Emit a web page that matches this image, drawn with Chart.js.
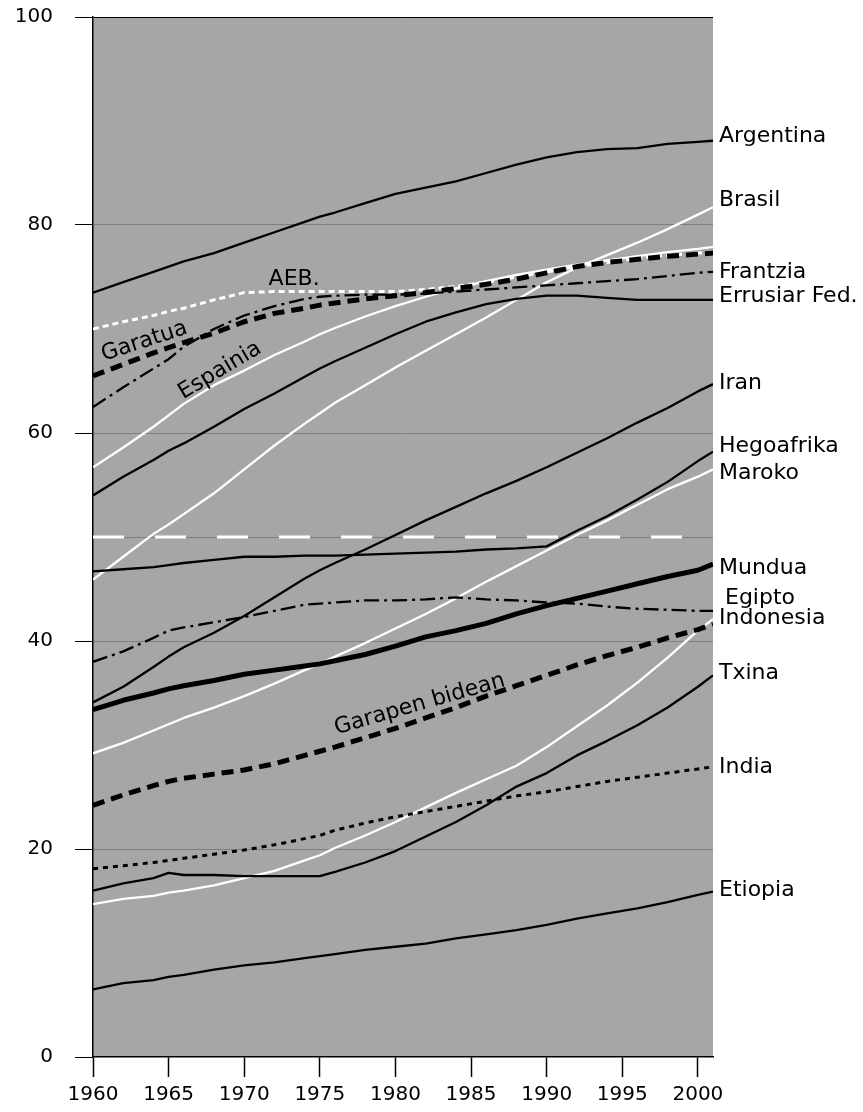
<!DOCTYPE html>
<html>
<head>
<meta charset="utf-8">
<script src="https://cdn.jsdelivr.net/npm/chart.js@4/dist/chart.umd.min.js"></script>
<style>
  html, body { margin: 0; padding: 0; background: #fff; }
  canvas { display: block; }
</style>
</head>
<body>
<canvas id="urbanChart" width="863" height="1112"></canvas>
<script>
// urbanization share (%)
const years = [1960, 1962, 1964, 1965, 1966, 1968, 1970, 1972, 1974, 1975, 1976, 1978,
  1980, 1982, 1984, 1986, 1988, 1990, 1992, 1994, 1996, 1998, 2000, 2001];

const argentina = [73.5, 74.5, 75.5, 76.0, 76.5, 77.3, 78.3, 79.3, 80.3, 80.8, 81.2, 82.1,
  83.0, 83.6, 84.2, 85.0, 85.8, 86.5, 87.0, 87.3, 87.4, 87.8, 88.0, 88.1];
const brasil = [45.9, 48.1, 50.3, 51.2, 52.2, 54.2, 56.5, 58.8, 60.9, 61.9, 62.9, 64.6,
  66.3, 67.9, 69.5, 71.1, 72.8, 74.5, 75.9, 77.1, 78.3, 79.6, 81.0, 81.7];
const aeb = [70.0, 70.7, 71.3, 71.7, 72.0, 72.8, 73.5, 73.6, 73.6, 73.6, 73.6, 73.6,
  73.6, 73.8, 74.1, 74.5, 75.0, 75.5, 76.0, 76.4, 76.8, 77.1, 77.3, 77.4];
const garatua = [65.5, 66.6, 67.7, 68.2, 68.7, 69.6, 70.7, 71.5, 72.0, 72.3, 72.5, 72.9,
  73.2, 73.5, 73.9, 74.3, 74.8, 75.4, 76.0, 76.4, 76.7, 77.0, 77.2, 77.3];
const frantzia = [62.5, 64.4, 66.2, 67.1, 68.3, 70.0, 71.3, 72.2, 72.9, 73.1, 73.2, 73.3,
  73.3, 73.4, 73.6, 73.8, 74.0, 74.2, 74.4, 74.6, 74.8, 75.1, 75.4, 75.5];
const espainia = [56.7, 58.6, 60.6, 61.7, 62.8, 64.6, 66.0, 67.5, 68.8, 69.5, 70.1, 71.2,
  72.2, 73.1, 73.9, 74.6, 75.2, 75.7, 76.2, 76.6, 77.0, 77.4, 77.7, 77.9];
const errusia = [54.0, 55.8, 57.4, 58.3, 59.0, 60.6, 62.3, 63.8, 65.4, 66.2, 66.9, 68.2,
  69.5, 70.7, 71.6, 72.4, 72.9, 73.2, 73.2, 73.0, 72.8, 72.8, 72.8, 72.8];
const iran = [34.1, 35.6, 37.5, 38.5, 39.4, 40.8, 42.4, 44.2, 46.0, 46.8, 47.5, 48.8,
  50.2, 51.6, 52.9, 54.2, 55.4, 56.7, 58.1, 59.5, 61.0, 62.4, 64.0, 64.7];
const hegoafrika = [46.7, 46.9, 47.1, 47.3, 47.5, 47.8, 48.1, 48.1, 48.2, 48.2, 48.2, 48.3,
  48.4, 48.5, 48.6, 48.8, 48.9, 49.1, 50.6, 52.0, 53.6, 55.3, 57.3, 58.2];
const maroko = [29.2, 30.2, 31.4, 32.0, 32.6, 33.6, 34.7, 35.9, 37.2, 37.8, 38.5, 39.8,
  41.2, 42.6, 44.1, 45.7, 47.2, 48.7, 50.2, 51.6, 53.1, 54.6, 55.8, 56.5];
const mundua = [33.4, 34.3, 35.0, 35.4, 35.7, 36.2, 36.8, 37.2, 37.6, 37.8, 38.1, 38.7,
  39.5, 40.4, 41.0, 41.7, 42.6, 43.4, 44.1, 44.8, 45.5, 46.2, 46.8, 47.4];
const egipto = [38.0, 39.0, 40.3, 41.0, 41.3, 41.8, 42.3, 42.9, 43.5, 43.6, 43.7, 43.9,
  43.9, 44.0, 44.2, 44.0, 43.9, 43.7, 43.6, 43.3, 43.1, 43.0, 42.9, 42.9];
const garapenBidean = [24.2, 25.2, 26.1, 26.5, 26.8, 27.2, 27.6, 28.2, 29.0, 29.4, 29.8, 30.7,
  31.6, 32.6, 33.6, 34.7, 35.7, 36.7, 37.7, 38.6, 39.4, 40.3, 41.1, 41.6];
const indonesia = [14.7, 15.2, 15.5, 15.8, 16.0, 16.5, 17.2, 17.9, 18.9, 19.4, 20.1, 21.3,
  22.6, 24.0, 25.4, 26.7, 28.0, 29.8, 31.8, 33.8, 36.0, 38.4, 41.0, 42.1];
const txina = [16.0, 16.7, 17.2, 17.7, 17.5, 17.5, 17.4, 17.4, 17.4, 17.4, 17.8, 18.7,
  19.8, 21.2, 22.6, 24.2, 26.0, 27.3, 29.0, 30.4, 31.9, 33.6, 35.6, 36.7];
const india = [18.1, 18.4, 18.7, 18.9, 19.1, 19.5, 19.9, 20.4, 21.0, 21.3, 21.8, 22.5,
  23.1, 23.6, 24.1, 24.6, 25.1, 25.5, 26.0, 26.5, 26.9, 27.3, 27.7, 27.9];
const etiopia = [6.5, 7.1, 7.4, 7.7, 7.9, 8.4, 8.8, 9.1, 9.5, 9.7, 9.9, 10.3,
  10.6, 10.9, 11.4, 11.8, 12.2, 12.7, 13.3, 13.8, 14.3, 14.9, 15.6, 15.9];

const yTicks = [0, 20, 40, 60, 80, 100];
const halfMark = 50;

const FONT = 'DejaVu Sans';
const BLACK = '#000000';
const WHITE = '#ffffff';

// line looks
const solid = { borderColor: BLACK, borderWidth: 2.3 };
const whiteSolid = { borderColor: WHITE, borderWidth: 2.3 };
const thick = { borderColor: BLACK, borderWidth: 5 };
const thickDash = { borderColor: BLACK, borderWidth: 5, borderDash: [12, 7] };
const dashDot = { borderColor: BLACK, borderWidth: 2.3, borderDash: [15, 5, 3, 5] };
const dotted = { borderColor: BLACK, borderWidth: 3, borderDash: [5, 5] };
const whiteDotted = { borderColor: WHITE, borderWidth: 3, borderDash: [6, 4] };

function series(label, values, look) {
  return Object.assign({
    label: label,
    data: years.map((yr, i) => ({ x: yr, y: values[i] })),
    pointRadius: 0,
    tension: 0,
    fill: false,
    borderJoinStyle: 'round'
  }, look);
}

// end-of-line names, placed in data units
const endLabels = [
  { text: 'Argentina', y: 88.5 },
  { text: 'Brasil', y: 82.4 },
  { text: 'Frantzia', y: 75.5 },
  { text: 'Errusiar Fed.', y: 73.1 },
  { text: 'Iran', y: 64.8 },
  { text: 'Hegoafrika', y: 58.7 },
  { text: 'Maroko', y: 56.1 },
  { text: 'Mundua', y: 47.0 },
  { text: 'Egipto', y: 44.1, dx: 6 },
  { text: 'Indonesia', y: 42.2 },
  { text: 'Txina', y: 36.9 },
  { text: 'India', y: 27.9 },
  { text: 'Etiopia', y: 16.0 }
];

const inlineLabels = [
  { text: 'AEB.', x: 1973.3, y: 74.8, rot: 0 },
  { text: 'Garatua', x: 1963.4, y: 68.8, rot: -18 },
  { text: 'Espainia', x: 1968.4, y: 66.0, rot: -31 },
  { text: 'Garapen bidean', x: 1981.6, y: 33.9, rot: -16 }
];

const plotBackground = {
  id: 'plotBackground',
  beforeDraw(chart) {
    const { ctx, chartArea: a } = chart;
    ctx.save();
    ctx.fillStyle = '#fff';
    ctx.fillRect(0, 0, chart.width, chart.height);
    ctx.fillStyle = '#a6a6a6';
    ctx.fillRect(a.left, a.top, a.right - a.left, a.bottom - a.top);
    ctx.restore();
  }
};

const halfLine = {
  id: 'halfLine',
  beforeDatasetsDraw(chart) {
    const { ctx, chartArea: a } = chart;
    const y = chart.scales.y.getPixelForValue(halfMark);
    ctx.save();
    ctx.strokeStyle = WHITE;
    ctx.lineWidth = 3;
    ctx.setLineDash([31, 31]);
    ctx.beginPath();
    ctx.moveTo(a.left, y);
    ctx.lineTo(a.right, y);
    ctx.stroke();
    ctx.restore();
  }
};

const textLabels = {
  id: 'textLabels',
  afterDatasetsDraw(chart) {
    const { ctx, chartArea: a } = chart;
    const sx = chart.scales.x, sy = chart.scales.y;
    ctx.save();
    ctx.fillStyle = BLACK;
    ctx.font = '22px "' + FONT + '"';
    ctx.textBaseline = 'middle';
    ctx.textAlign = 'left';
    endLabels.forEach((l) => {
      ctx.fillText(l.text, a.right + 6 + (l.dx || 0), sy.getPixelForValue(l.y));
    });
    ctx.textAlign = 'center';
    inlineLabels.forEach((l) => {
      ctx.save();
      ctx.translate(sx.getPixelForValue(l.x), sy.getPixelForValue(l.y));
      ctx.rotate(l.rot * Math.PI / 180);
      ctx.fillText(l.text, 0, 0);
      ctx.restore();
    });
    ctx.restore();
  }
};

const ctx = document.getElementById('urbanChart').getContext('2d');
new Chart(ctx, {
  type: 'line',
  data: {
    datasets: [
      series('Mundua', mundua, thick),
      series('Garatua', garatua, thickDash),
      series('Garapen bidean', garapenBidean, thickDash),
      series('AEB.', aeb, whiteDotted),
      series('Argentina', argentina, solid),
      series('Errusiar Fed.', errusia, solid),
      series('Iran', iran, solid),
      series('Hegoafrika', hegoafrika, solid),
      series('Txina', txina, solid),
      series('Etiopia', etiopia, solid),
      series('Frantzia', frantzia, dashDot),
      series('Egipto', egipto, dashDot),
      series('India', india, dotted),
      series('Brasil', brasil, whiteSolid),
      series('Espainia', espainia, whiteSolid),
      series('Maroko', maroko, whiteSolid),
      series('Indonesia', indonesia, whiteSolid)
    ]
  },
  options: {
    responsive: false,
    animation: false,
    events: [],
    layout: { padding: { left: 0, right: 150, top: 17, bottom: 0 } },
    plugins: {
      legend: { display: false },
      tooltip: { enabled: false }
    },
    scales: {
      x: {
        type: 'linear',
        min: 1960,
        max: 2001,
        afterFit: (s) => { s.height = 55; s.paddingLeft = 0; s.paddingRight = 0; },
        ticks: {
          stepSize: 5,
          includeBounds: false,
          autoSkip: false,
          maxRotation: 0,
          padding: 6,
          color: BLACK,
          font: { family: FONT, size: 20 },
          callback: (v) => String(v)
        },
        grid: { drawOnChartArea: false, tickLength: 20, tickColor: BLACK, tickWidth: 1.5 },
        border: { color: BLACK, width: 1.5 }
      },
      y: {
        min: 0,
        max: 100,
        afterFit: (s) => { s.width = 93; s.paddingTop = 0; s.paddingBottom = 0; },
        afterBuildTicks: (s) => {
          s.ticks = yTicks.concat([halfMark]).sort((p, q) => p - q).map((v) => ({ value: v }));
        },
        ticks: {
          padding: 22,
          color: BLACK,
          font: { family: FONT, size: 20 },
          callback: (v) => (yTicks.includes(v) ? String(v) : '')
        },
        grid: {
          lineWidth: 1,
          tickLength: 18,
          color: (c) => {
            const v = c.tick.value;
            if (v === 100) return BLACK;
            if (v === 0) return 'rgba(0,0,0,0)';
            return '#7f7f7f';
          },
          tickColor: (c) => (yTicks.includes(c.tick.value) ? BLACK : 'rgba(0,0,0,0)')
        },
        border: { color: BLACK, width: 1.5 }
      }
    }
  },
  plugins: [plotBackground, halfLine, textLabels]
});
</script>
</body>
</html>
